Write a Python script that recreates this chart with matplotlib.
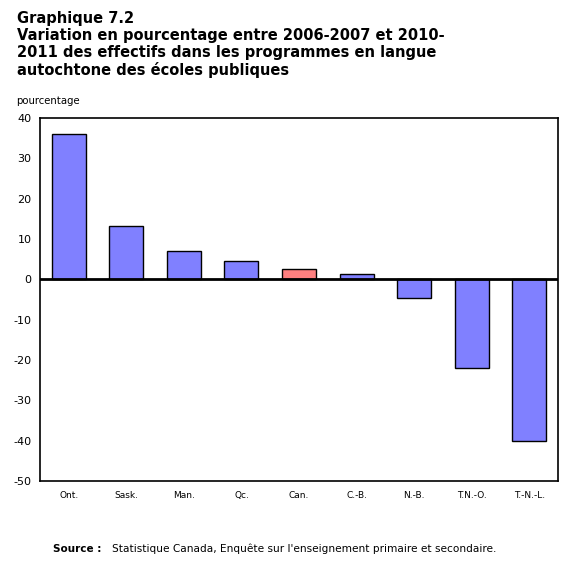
import matplotlib
matplotlib.use("Agg")
import matplotlib.pyplot as plt

categories = ['Ont.', 'Sask.', 'Man.', 'Qc.', 'Can.', 'C.-B.', 'N.-B.', 'T.N.-O.', 'T.-N.-L.']
values = [36.1, 13.1, 7.1, 4.6, 2.6, 1.2, -4.6, -21.9, -40.1]
colors = ['#8080FF'] * 9
colors[4] = '#FF8080'
yticks = [40, 30, 20, 10, 0, -10, -20, -30, -40, -50]

plt.rcParams['font.family'] = ['Verdana', 'DejaVu Sans']

fig = plt.figure(figsize=(5.69, 5.67), dpi=100)
ax = fig.add_axes([40/569, 1-481/567, 518/569, 363/567])

x = range(len(categories))
ax.bar(x, values, width=0.59, color=colors, edgecolor='black', linewidth=1.0, zorder=2)
ax.axhline(0, color='black', linewidth=2, zorder=3)

ax.set_xlim(-0.5, len(categories) - 0.5)
ax.set_ylim(-50, 40)
ax.set_yticks(yticks)
ax.set_yticklabels([str(t) for t in yticks], fontsize=8)
ax.set_xticks(list(x))
ax.set_xticklabels(categories, fontsize=6.5)
ax.tick_params(axis='both', length=0, pad=6)
ax.tick_params(axis='x', pad=7)
for s in ax.spines.values():
    s.set_linewidth(1.2)

fig.text(17/569, 1-11/567, "Graphique 7.2\nVariation en pourcentage entre 2006-2007 et 2010-\n2011 des effectifs dans les programmes en langue\nautochtone des écoles publiques",
         fontsize=10.5, fontweight='bold', va='top', ha='left', linespacing=1.17)
fig.text(16/569, 1-101/567, "pourcentage", fontsize=7.3, va='center', ha='left')
fig.text(53/569, 1-549/567, "Source :", fontsize=7.5, fontweight='bold', va='center', ha='left')
fig.text(112/569, 1-549/567, "Statistique Canada, Enquête sur l'enseignement primaire et secondaire.", fontsize=7.6, va='center', ha='left')

fig.savefig("out.png", dpi=100)
